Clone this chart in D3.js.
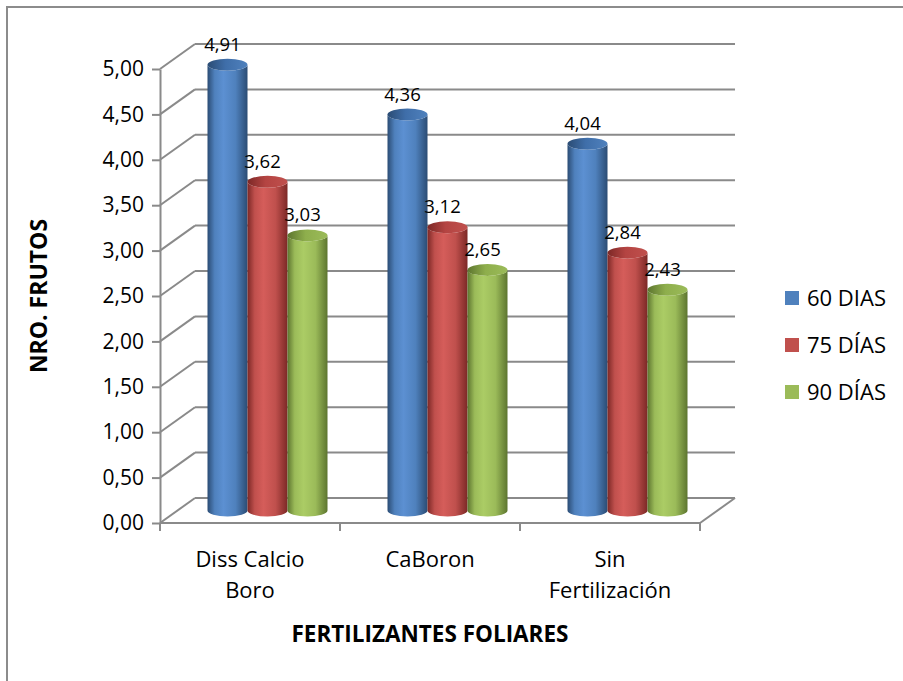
<!DOCTYPE html>
<html>
<head>
<meta charset="utf-8">
<script src="https://cdn.jsdelivr.net/npm/d3@7/dist/d3.min.js"></script>
<style>
  body { margin: 0; background: #fff; }
  text { font-family: "Open Sans", "Noto Sans", sans-serif; fill: #000; }
</style>
</head>
<body>
<div id="chart"></div>
<script>
// data
const categories = [["Diss Calcio", "Boro"], ["CaBoron"], ["Sin", "Fertilización"]];
const seriesNames = ["60 DIAS", "75 DÍAS", "90 DÍAS"];
const dias60 = [4.91, 4.36, 4.04];
const dias75 = [3.62, 3.12, 2.84];
const dias90 = [3.03, 2.65, 2.43];
const yTicks = [0, 0.5, 1, 1.5, 2, 2.5, 3, 3.5, 4, 4.5, 5];

const seriesValues = [dias60, dias75, dias90];
const colors = [
  { base: "#4F81BD", dark: "#2B4C74", light: "#5C90D2", top: "#3F6EA9" },
  { base: "#C0504D", dark: "#7C2826", light: "#D55D5A", top: "#B44442" },
  { base: "#9BBB59", dark: "#5D752F", light: "#ABCC65", top: "#8EAE4C" }
];

const width = 903, height = 681;

// 3d box: front plane, depth offset
const plot = { left: 160, right: 700, top: 69, bottom: 523 };
const depth = { dx: 35, dy: -25 };

const svg = d3.select("#chart").append("svg")
  .attr("width", width)
  .attr("height", height);

// outer frame (runs off the right and bottom)
svg.append("rect")
  .attr("x", 7).attr("y", 7)
  .attr("width", 1000).attr("height", 1000)
  .attr("fill", "none")
  .attr("stroke", "#8c8c8c")
  .attr("stroke-width", 2);

const y = d3.scaleLinear().domain([0, 5]).range([plot.bottom, plot.top]);
const catKeys = categories.map(c => c.join(" "));
const x = d3.scaleBand().domain(catKeys).range([plot.left, plot.right]);
const xs = d3.scaleBand().domain(seriesNames)
  .range([x.bandwidth() / 2 - 60, x.bandwidth() / 2 + 60]);

const gridColor = "#8a8a8a";

// back wall gridlines + side wall diagonals
const walls = svg.append("g").attr("stroke", gridColor).attr("stroke-width", 2).attr("fill", "none");
yTicks.forEach(t => {
  const yf = y(t);
  walls.append("line")
    .attr("x1", plot.left).attr("y1", yf)
    .attr("x2", plot.left + depth.dx).attr("y2", yf + depth.dy);
  walls.append("line")
    .attr("x1", plot.left + depth.dx).attr("y1", yf + depth.dy)
    .attr("x2", plot.right + depth.dx).attr("y2", yf + depth.dy);
});
// floor front edge and right edge
walls.append("line")
  .attr("x1", plot.left).attr("y1", y(0))
  .attr("x2", plot.right).attr("y2", y(0));
walls.append("line")
  .attr("x1", plot.right).attr("y1", y(0))
  .attr("x2", plot.right + depth.dx).attr("y2", y(0) + depth.dy);

// y axis
const fmt = d => d3.format(".2f")(d).replace(".", ",");
const yAxis = d3.axisLeft(y).tickValues(yTicks).tickFormat(fmt)
  .tickSize(8).tickSizeOuter(0).tickPadding(8);
const gy = svg.append("g")
  .attr("transform", `translate(${plot.left},0)`)
  .call(yAxis);
gy.select(".domain").attr("stroke", gridColor).attr("stroke-width", 2);
gy.selectAll(".tick line").attr("stroke", gridColor).attr("stroke-width", 2);
gy.selectAll(".tick text")
  .style("font-family", "'Open Sans', sans-serif")
  .style("font-size", "21px")
  .attr("fill", "#000");

// x axis ticks at band edges
const xEdges = [plot.left].concat(catKeys.map(k => x(k) + x.bandwidth()));
svg.append("g").selectAll("line").data(xEdges).join("line")
  .attr("x1", d => d).attr("x2", d => d)
  .attr("y1", y(0)).attr("y2", y(0) + 8)
  .attr("stroke", gridColor).attr("stroke-width", 2);

// category labels
svg.append("g").selectAll("text").data(categories).join("text")
  .attr("x", (d, i) => x(catKeys[i]) + x.bandwidth() / 2)
  .attr("y", 567)
  .attr("text-anchor", "middle")
  .style("font-size", "22px")
  .each(function(lines) {
    d3.select(this).selectAll("tspan").data(lines).join("tspan")
      .attr("x", d3.select(this).attr("x"))
      .attr("dy", (l, j) => j === 0 ? 0 : 31)
      .text(l => l);
  });

// gradients for the cylinders
const defs = svg.append("defs");
colors.forEach((c, i) => {
  const g = defs.append("linearGradient").attr("id", "body" + i)
    .attr("x1", "0%").attr("x2", "100%").attr("y1", "0%").attr("y2", "0%");
  g.append("stop").attr("offset", "0%").attr("stop-color", c.dark);
  g.append("stop").attr("offset", "18%").attr("stop-color", c.base);
  g.append("stop").attr("offset", "40%").attr("stop-color", c.light);
  g.append("stop").attr("offset", "70%").attr("stop-color", c.base);
  g.append("stop").attr("offset", "100%").attr("stop-color", c.dark);
  const t = defs.append("linearGradient").attr("id", "top" + i)
    .attr("x1", "0%").attr("x2", "100%").attr("y1", "0%").attr("y2", "0%");
  t.append("stop").attr("offset", "0%").attr("stop-color", c.dark);
  t.append("stop").attr("offset", "45%").attr("stop-color", c.top);
  t.append("stop").attr("offset", "100%").attr("stop-color", c.base);
});

// cylinders sit halfway into the depth
const rx = xs.bandwidth() / 2;
const ry = 6;
const bars = [];
catKeys.forEach((k, ci) => {
  seriesNames.forEach((s, si) => {
    const cx = x(k) + xs(s) + rx + depth.dx / 2;
    const yBase = y(0) + depth.dy / 2;
    const yTop = y(seriesValues[si][ci]) + depth.dy / 2;
    bars.push({ cx, yBase, yTop, si, v: seriesValues[si][ci] });
  });
});

const gBars = svg.append("g");
bars.forEach(b => {
  const x0 = b.cx - rx, x1 = b.cx + rx;
  gBars.append("path")
    .attr("d", `M${x0},${b.yTop} L${x0},${b.yBase} A${rx},${ry} 0 0 0 ${x1},${b.yBase} L${x1},${b.yTop} A${rx},${ry} 0 0 1 ${x0},${b.yTop} Z`)
    .attr("fill", `url(#body${b.si})`);
  gBars.append("ellipse")
    .attr("cx", b.cx).attr("cy", b.yTop)
    .attr("rx", rx).attr("ry", ry)
    .attr("fill", `url(#top${b.si})`);
});

// value labels
svg.append("g").selectAll("text").data(bars).join("text")
  .attr("x", d => d.cx - 5)
  .attr("y", d => d.yTop - ry - 8)
  .attr("text-anchor", "middle")
  .style("font-size", "18.5px")
  .text(d => fmt(d.v));

// axis titles
svg.append("text")
  .attr("transform", `translate(47,${(plot.top + plot.bottom) / 2}) rotate(-90)`)
  .attr("text-anchor", "middle")
  .style("font-size", "23px")
  .style("font-weight", "bold")
  .text("NRO. FRUTOS");

svg.append("text")
  .attr("x", 430).attr("y", 642)
  .attr("text-anchor", "middle")
  .style("font-size", "22.5px")
  .style("font-weight", "bold")
  .text("FERTILIZANTES FOLIARES");

// legend
const legend = svg.append("g").selectAll("g").data(seriesNames).join("g")
  .attr("transform", (d, i) => `translate(785,${298 + i * 47})`);
legend.append("rect")
  .attr("x", 0).attr("y", -7).attr("width", 14).attr("height", 14)
  .attr("fill", (d, i) => colors[i].base);
legend.append("text")
  .attr("x", 22).attr("y", 8)
  .style("font-size", "22px")
  .text(d => d);
</script>
</body>
</html>
